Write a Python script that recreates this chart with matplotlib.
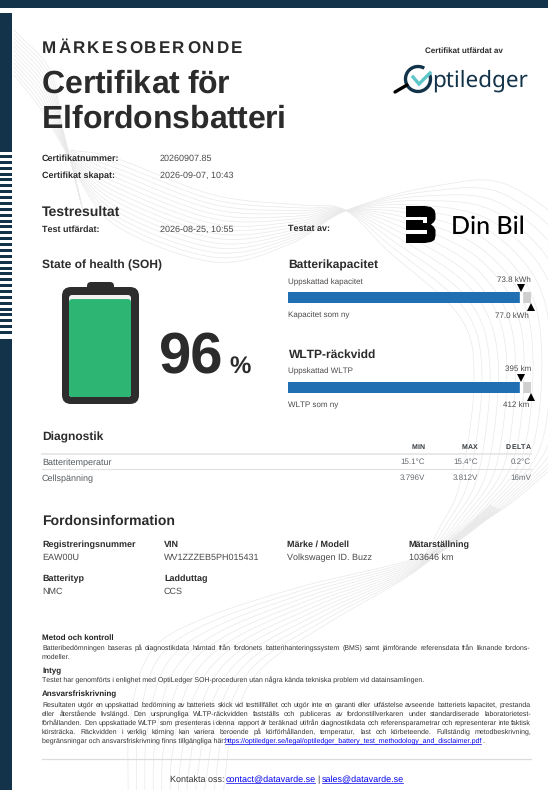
import math
import numpy as np
import matplotlib
matplotlib.use("Agg")
import matplotlib.pyplot as plt
from matplotlib.patches import FancyBboxPatch, Rectangle, Arc, Polygon
import matplotlib.text as mtext

plt.rcParams['font.family'] = ['Liberation Sans', 'DejaVu Sans']
plt.rcParams['text.hinting'] = 'no_hinting'
plt.rcParams['text.hinting_factor'] = 1

# ---------- data ----------
soh_percent = 96
capacity_est, capacity_new = 73.8, 77.0
wltp_est, wltp_new = 395, 412
diag_headers = ["MIN", "MAX", "DELTA"]
diag_rows = ["Batteritemperatur", "Cellspänning"]
diag_values = [["15.1°C", "15.4°C", "0.2°C"], ["3.796V", "3.812V", "16mV"]]
vehicle_labels = [["Registreringsnummer", "VIN", "Märke / Modell", "Mätarställning"], ["Batterityp", "Ladduttag"]]
vehicle_values = [["EAW00U", "WV1ZZZEB5PH015431", "Volkswagen ID. Buzz", "103646 km"], ["NMC", "CCS"]]

W, H = 548, 790
NAVY = "#12334a"
DARK = "#2b2b2b"
GREY = "#4a4a4a"
DPI = 100

fig = plt.figure(figsize=(W / DPI, H / DPI), dpi=DPI, facecolor="white")
ax = fig.add_axes([0, 0, 1, 1])
ax.set_xlim(0, W)
ax.set_ylim(H, 0)
ax.axis("off")


class SpacedText(mtext.Text):
    """One text object whose glyphs or words are spread out when drawn."""
    def __init__(self, x, y, s, letter=0.0, target=None, **kw):
        super().__init__(x, y, s, **kw)
        self._letter, self._target = letter, target

    def _m(self, renderer, s):
        return renderer.get_text_width_height_descent(s, self.get_fontproperties(), False)

    def draw(self, renderer):
        s, ha = self.get_text(), self.get_ha()
        x0, y0 = self.get_position()
        if self._letter:
            total = self._m(renderer, s)[0] + self._letter * (len(s) - 1)
            if ha == "right":
                x0 -= total
            pos = [(c, x0 + self._m(renderer, s[:i + 1])[0] - self._m(renderer, c)[0] + i * self._letter)
                   for i, c in enumerate(s) if c != " "]
        else:
            words = s.split(" ")
            extra = (self._target - x0 - self._m(renderer, s)[0]) / max(len(words) - 1, 1)
            pos, i = [], 0
            for n, word in enumerate(words):
                pos.append((word, x0 + self._m(renderer, s[:i])[0] + n * extra))
                i += len(word) + 1
        gc = renderer.new_gc()
        gc.set_foreground(self.get_color())
        gc.set_antialiased(True)
        base = round(y0)  # data y equals pixels from the top
        for tok, px in pos:
            _, h, d = self._m(renderer, tok)
            # keep every token on one pixel baseline despite the bitmap's rounding
            off = math.floor(h) + 1 - math.floor(h - d)
            renderer.draw_text(gc, px, base + off - 1 - d, tok, self.get_fontproperties(), 0, ismath=False)
        gc.restore()
        self.stale = False


def T(x, y, s, size, bold=False, color=DARK, ha="left", **kw):
    return ax.text(x, y, s, fontsize=size, fontweight="bold" if bold else "normal",
                   color=color, ha=ha, va="baseline", zorder=5, **kw)


def S(x, y, s, size, bold=False, color=DARK, ha="left", letter=0.0, target=None):
    t = SpacedText(x, y, s, letter=letter, target=target, fontsize=size,
                   fontweight="bold" if bold else "normal", color=color, ha=ha,
                   va="baseline", zorder=5, transform=ax.transData)
    ax.add_artist(t)
    return t


# ---------- background guilloche ----------
def smooth(pts, n=60):
    pts = np.asarray(pts, float)
    p = np.vstack([2 * pts[0] - pts[1], pts, 2 * pts[-1] - pts[-2]])
    out = []
    for i in range(1, len(p) - 2):
        t = np.linspace(0, 1, n)[:, None]
        a, b, c, d = p[i - 1], p[i], p[i + 1], p[i + 2]
        out.append(0.5 * (2 * b + (c - a) * t + (2 * a - 5 * b + 4 * c - d) * t ** 2 + (3 * b - a - 3 * c + d) * t ** 3))
    return np.vstack(out)


def bundle(a, b, k=11, color="#e9e9e9", lw=0.5):
    a, b = np.asarray(a, float), np.asarray(b, float)
    for f in np.linspace(0, 1, k):
        c = smooth(a * (1 - f) + b * f)
        ax.plot(c[:, 0], c[:, 1], color=color, lw=lw, zorder=1, clip_on=True)


bundle([(14, 30), (50, 70), (63, 130), (72, 165), (84, 215)], [(14, 75), (38, 105), (62, 145), (72, 165), (75, 180)], k=12)
bundle([(72, 168), (115, 225), (214, 262), (290, 244), (345, 211), (430, 187), (510, 186), (585, 260), (590, 410), (527, 490), (434, 552)],
       [(70, 150), (115, 158), (214, 195), (300, 205), (345, 210), (387, 250), (460, 317), (474, 383), (460, 483), (440, 527), (420, 565)], k=15)
bundle([(500, 510), (433, 553), (300, 587), (200, 620), (150, 653), (130, 720), (128, 795)],
       [(490, 505), (417, 570), (333, 620), (260, 670), (233, 727), (223, 795), (220, 800)], k=12)

# ---------- frame ----------
ax.add_patch(Rectangle((0, 0), W, 8, color=NAVY, lw=0, zorder=2))
ax.add_patch(Rectangle((0, 13), 12, 139, color=NAVY, lw=0, zorder=2))
ax.add_patch(Rectangle((0, 339), 12, 451, color=NAVY, lw=0, zorder=2))
for k in range(31):
    ax.add_patch(Rectangle((0, 155 + k * 5.87), 12, 3, color=NAVY, lw=0, zorder=2))

# ---------- heading ----------
S(42, 53, "MÄRKESOBERONDE", 12.5, bold=True, letter=2.2)
S(42, 93, "Certifikat för", 22.7, bold=True, letter=-0.2)
S(42, 128, "Elfordonsbatteri", 22.7, bold=True, letter=-0.2)
T(464, 52.7, "Certifikat utfärdat av", 5.6, bold=True, ha="center")

# Optiledger logo
ax.add_patch(Arc((418, 79), 25, 25, angle=0, theta1=-20, theta2=300, color=NAVY, lw=2.4, zorder=5))
ax.plot([395, 407], [92, 85], color="black", lw=2.4, zorder=5, solid_capstyle="round")
ax.plot([413, 419, 430], [77, 84, 73], color="#5cc6c8", lw=2.4, zorder=6, solid_joinstyle="miter")
ax.text(432, 87, "ptiledger", fontsize=16.2, fontweight="bold", family="Noto Sans",
        color=NAVY, ha="left", va="baseline", zorder=5)

# Din Bil logo
verts = [(406, 206), (425, 206), (431, 207), (434.5, 210), (435.5, 214), (435.5, 219), (434, 222), (431, 224.5),
         (434, 227), (435.5, 230), (435.5, 236), (434.5, 240), (431, 242), (425, 243), (406, 243)]
ax.add_patch(Polygon(verts, closed=True, color="black", lw=0, zorder=5))
ax.add_patch(Rectangle((406, 216.5), 21, 3.6, color="white", lw=0, zorder=6))
ax.add_patch(Rectangle((406, 230), 21, 3.6, color="white", lw=0, zorder=6))
ax.add_patch(Rectangle((423, 220), 4, 2.5, color="white", lw=0, zorder=6))
ax.text(451, 233.5, "Din Bil", fontsize=18.2, fontweight="medium", family="Lato", color="black", ha="left", va="baseline", zorder=5)

# ---------- meta ----------
LBL = 6.5
VAL = 6.5
T(42, 161, "Certifikatnummer:", LBL, bold=True)
T(160, 161, "20260907.85", VAL, color=GREY)
T(42, 178, "Certifikat skapat:", LBL, bold=True)
T(160, 178, "2026-09-07, 10:43", VAL, color=GREY)
T(42, 216, "Testresultat", 10, bold=True)
T(42, 232, "Test utfärdat:", LBL, bold=True)
T(160, 232, "2026-08-25, 10:55", VAL, color=GREY)
T(288.5, 231, "Testat av:", LBL, bold=True)

# ---------- SOH ----------
T(42, 268.5, "State of health (SOH)", 8.5, bold=True)
ax.add_patch(FancyBboxPatch((87 + 4, 282 + 4), 27 - 8, 10, boxstyle="round,pad=4,rounding_size=4", fc="#2d2d2d", ec="none", zorder=3))
ax.add_patch(FancyBboxPatch((62 + 9, 287 + 9), 77 - 18, 117 - 18, boxstyle="round,pad=9,rounding_size=9", fc="#2d2d2d", ec="none", zorder=3))
ax.add_patch(FancyBboxPatch((69 + 3, 295 + 3), 62 - 6, 102 - 6, boxstyle="round,pad=3,rounding_size=3", fc="#f2f2f2", ec="none", zorder=4))
inner_h = 102 * soh_percent / 100
ax.add_patch(FancyBboxPatch((69 + 3, 397 - inner_h + 3), 62 - 6, inner_h - 6, boxstyle="round,pad=3,rounding_size=3", fc="#2cb573", ec="none", zorder=4))
T(158.5, 373, f"{soh_percent}", 41.5, bold=True)
T(229, 373, "%", 17.5, bold=True)


# ---------- gauges ----------
def gauge(y_top, est, new):
    g = fig.add_axes([288 / W, 1 - (y_top + 11) / H, 243 / W, 11 / H])
    g.set_xlim(0, new)
    g.set_ylim(0, 1)
    g.axis("off")
    g.patch.set_alpha(0)
    g.barh(0.5, est, height=1, color="#1f6fb2", lw=0)
    g.barh(0.5, new - est, left=est, height=1, color="#cfcfcf", lw=0)
    g.axvline(est, color="white", lw=2.4)
    g.plot([est], [1.32], marker="v", ms=5.2, color="black", mew=0, clip_on=False)
    g.plot([new], [-0.34], marker="^", ms=5.2, color="black", mew=0, clip_on=False)


SM = 6.0
T(288.5, 268.5, "Batterikapacitet", 8.6, bold=True)
T(288.5, 284, "Uppskattad kapacitet", SM, color=GREY)
T(531, 281.5, f"{capacity_est} kWh", SM, color=GREY, ha="right")
gauge(292, capacity_est, capacity_new)
T(288.5, 317.5, "Kapacitet som ny", SM, color=GREY)
T(529, 317.5, f"{capacity_new} kWh", SM, color=GREY, ha="right")
T(288.5, 358, "WLTP-räckvidd", 8.6, bold=True)
T(288.5, 373, "Uppskattad WLTP", SM, color=GREY)
T(531, 370.5, f"{wltp_est} km", SM, color=GREY, ha="right")
gauge(382, wltp_est, wltp_new)
T(288.5, 407, "WLTP som ny", SM, color=GREY)
T(529, 407, f"{wltp_new} km", SM, color=GREY, ha="right")

# ---------- diagnostics ----------
T(42, 440, "Diagnostik", 8.5, bold=True)
xs = [425, 478, 531]
for x, h in zip(xs, diag_headers):
    S(x, 449, h, 5.0, bold=True, ha="right", letter=0.5, color="#333a40")
ax.plot([42, 531], [454, 454], color="#e8e8e8", lw=1.4, zorder=3)
ax.plot([42, 531], [469.3, 469.3], color="#e0e0e0", lw=0.8, zorder=3)
for y, yv, name, vals in zip([465, 481], [464, 480], diag_rows, diag_values):
    T(42, y, name, 6.5, color="#555b60")
    for x, v in zip(xs, vals):
        T(x, yv, v, 5.9, color="#666b70", ha="right")

# ---------- vehicle ----------
T(42, 525, "Fordonsinformation", 9.9, bold=True)
cols = [42, 164, 286.6, 408.6]
for row, (yl, yv) in enumerate([(547, 560), (581, 594)]):
    for x, l, v in zip(cols, vehicle_labels[row], vehicle_values[row]):
        T(x, yl, l, 6.4, bold=True)
        T(x, yv, v, 6.5, color=GREY)

# ---------- legal ----------
BODY = 4.82
L, R = 42, 531
T(L, 640, "Metod och kontroll", 5.5, bold=True, color="#222222")
S(L, 650, "Batteribedömningen baseras på diagnostikdata hämtad från fordonets batterihanteringssystem (BMS) samt jämförande referensdata från liknande fordons-", BODY, color="#333333", target=R)
T(L, 659, "modeller.", BODY, color="#333333")
T(L, 673, "Intyg", 5.5, bold=True, color="#222222")
T(L, 683, "Testet har genomförts i enlighet med OptiLedger SOH-proceduren utan några kända tekniska problem vid datainsamlingen.", BODY, color="#333333")
T(L, 696, "Ansvarsfriskrivning", 5.5, bold=True, color="#222222")
legal = ["Resultaten utgör en uppskattad bedömning av batteriets skick vid testtillfället och utgör inte en garanti eller utfästelse avseende batteriets kapacitet, prestanda",
         "eller återstående livslängd. Den ursprungliga WLTP-räckvidden fastställs och publiceras av fordonstillverkaren under standardiserade laboratorietest-",
         "förhållanden. Den uppskattade WLTP som presenteras i denna rapport är beräknad utifrån diagnostikdata och referensparametrar och representerar inte faktisk",
         "körsträcka. Räckvidden i verklig körning kan variera beroende på körförhållanden, temperatur, last och körbeteende. Fullständig metodbeskrivning,"]
for y, line in zip([707, 716, 725, 734], legal):
    S(L, y, line, BODY, color="#333333", target=R)
T(L, 743, "begränsningar och ansvarsfriskrivning finns tillgängliga här:", 4.76, color="#333333")
LINK = "#0000ee"
T(225, 743, "https://optiledger.se/legal/optiledger_battery_test_methodology_and_disclaimer.pdf", 4.72, color=LINK)
ax.plot([225, 480.5], [744, 744], color=LINK, lw=0.5, zorder=5)
T(482, 743, ".", BODY, color="#333333")
ax.plot([42, 531], [759, 759], color="#dcdcdc", lw=0.9, zorder=3)

FT = 6.6
T(169.5, 782, "Kontakta oss:", FT, color="#333333")
T(226, 782, "contact@datavarde.se", FT, color=LINK)
ax.plot([226, 315], [783.3, 783.3], color=LINK, lw=0.5, zorder=5)
T(317.5, 782, "|", FT, color="#333333")
T(322, 782, "sales@datavarde.se", FT, color=LINK)
ax.plot([322, 403], [783.3, 783.3], color=LINK, lw=0.5, zorder=5)

fig.savefig("out.png", dpi=DPI, facecolor="white")
